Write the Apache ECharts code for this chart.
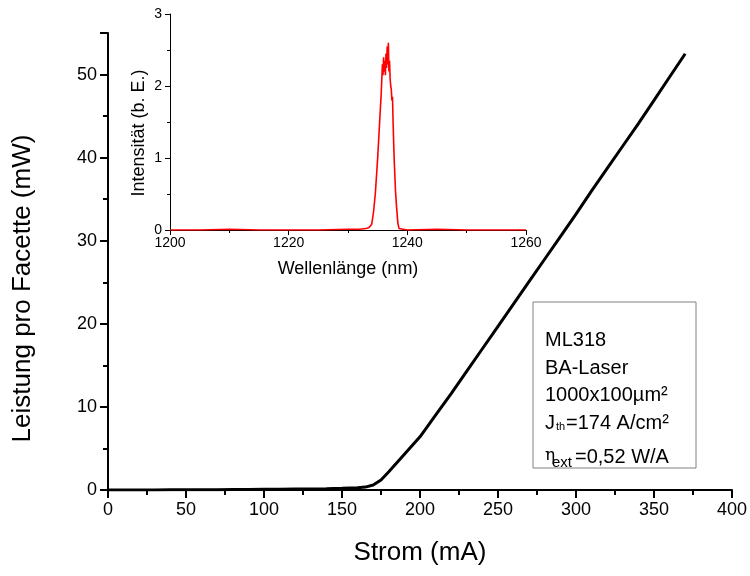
<!DOCTYPE html>
<html>
<head>
<meta charset="utf-8">
<script src="https://cdn.jsdelivr.net/npm/echarts@6/dist/echarts.min.js"></script>
<style>
  html, body { margin: 0; padding: 0; background: #fff; }
  #chart { width: 750px; height: 576px; }
</style>
</head>
<body>
<div id="chart"></div>
<script>
// P-I curve: current (mA) vs optical power per facet (mW)
const currentMA = [0, 10, 20, 30, 40, 50, 60, 70, 80, 90, 100, 110, 120, 130, 140, 150, 160,
  165, 170, 175, 180, 190, 200, 210, 220, 230, 240, 250, 260, 270, 280, 290, 300, 310, 320,
  330, 340, 350, 360, 370];
const powerMW = [0, 0, 0.01, 0.01, 0.02, 0.02, 0.03, 0.04, 0.05, 0.06, 0.08, 0.09, 0.11, 0.13,
  0.16, 0.2, 0.27, 0.35, 0.6, 1.2, 2.2, 4.3, 6.4, 9.0, 11.6, 14.3, 17.0, 19.7, 22.4, 25.1, 27.8,
  30.5, 33.2, 36.0, 38.7, 41.4, 44.1, 46.9, 49.7, 52.5];

// Emission spectrum: wavelength (nm) vs intensity (arb. units)
const wavelengthNM = [1200, 1205, 1210, 1215, 1220, 1225, 1230, 1232, 1233, 1233.5, 1234, 1234.3,
  1234.6, 1234.8, 1235.0, 1235.2, 1235.4, 1235.6, 1235.7, 1235.8, 1235.9, 1236.0, 1236.1, 1236.2,
  1236.3, 1236.4, 1236.5, 1236.6, 1236.7, 1236.8, 1236.9, 1237.0, 1237.1, 1237.2, 1237.3, 1237.4,
  1237.5, 1237.6, 1237.7, 1237.8, 1237.9, 1238.0, 1238.2, 1238.4, 1238.6, 1238.8, 1240, 1245,
  1250, 1255, 1260];
const intensity = [0, 0, 0.01, 0, 0, 0, 0.01, 0.01, 0.02, 0.03, 0.08, 0.25, 0.5, 0.75, 1.0, 1.3,
  1.6, 1.9, 2.1, 2.3, 2.15, 2.4, 2.2, 2.35, 2.15, 2.45, 2.25, 2.55, 2.3, 2.6, 2.2, 2.35, 2.1, 2.0,
  1.95, 1.8, 1.85, 1.5, 1.2, 0.95, 0.75, 0.55, 0.3, 0.1, 0.02, 0, 0, 0.01, 0, 0, 0];

// Axis tick settings
const currentTicks = { min: 0, max: 400, step: 50 };
const powerTicks = { min: 0, max: 55, step: 10 };
const wavelengthTicks = { min: 1200, max: 1260, step: 20 };
const intensityTicks = { min: 0, max: 3, step: 1 };

const FONT = '"Liberation Sans", Arial, sans-serif';

function axisBase(width, tickLen, minorLen, labelSize, margin) {
  return {
    axisLine: { show: true, onZero: false, lineStyle: { color: '#000', width: width } },
    axisTick: { show: true, inside: false, length: tickLen, lineStyle: { color: '#000', width: width } },
    minorTick: { show: true, splitNumber: 2, length: minorLen, lineStyle: { color: '#000', width: width } },
    splitLine: { show: false },
    minorSplitLine: { show: false },
    axisLabel: {
      color: '#000', fontFamily: FONT, fontSize: labelSize, margin: margin,
      showMaxLabel: true, formatter: (v) => String(v)
    }
  };
}

const chart = echarts.init(document.getElementById('chart'), null, { renderer: 'canvas' });

const mainY = axisBase(2, 8, 5, 18, 11);
mainY.axisLabel.showMaxLabel = false;

chart.setOption({
  animation: false,
  backgroundColor: '#fff',
  grid: [
    { left: 108, right: 13, top: 33, bottom: 86 },
    { left: 170, right: 224, top: 14, bottom: 346 }
  ],
  xAxis: [
    Object.assign(axisBase(2, 8, 5, 18, 11), {
      type: 'value', gridIndex: 0,
      min: currentTicks.min, max: currentTicks.max, interval: currentTicks.step,
      name: 'Strom (mA)', nameLocation: 'middle', nameGap: 50,
      nameTextStyle: { color: '#000', fontFamily: FONT, fontSize: 26 }
    }),
    Object.assign(axisBase(1, 5, 3, 14, 6), {
      type: 'value', gridIndex: 1,
      min: wavelengthTicks.min, max: wavelengthTicks.max, interval: wavelengthTicks.step,
      name: 'Wellenlänge (nm)', nameLocation: 'middle', nameGap: 30,
      nameTextStyle: { color: '#000', fontFamily: FONT, fontSize: 18 }
    })
  ],
  yAxis: [
    Object.assign(mainY, {
      type: 'value', gridIndex: 0,
      min: powerTicks.min, max: powerTicks.max, interval: powerTicks.step,
      name: 'Leistung pro Facette (mW)', nameLocation: 'middle', nameGap: 72,
      nameTextStyle: { color: '#000', fontFamily: FONT, fontSize: 26, padding: [0, 54, 0, 0] }
    }),
    Object.assign(axisBase(1, 5, 3, 14, 8), {
      type: 'value', gridIndex: 1,
      min: intensityTicks.min, max: intensityTicks.max, interval: intensityTicks.step,
      name: 'Intensität (b. E.)', nameLocation: 'middle', nameGap: 22,
      nameTextStyle: { color: '#000', fontFamily: FONT, fontSize: 18, padding: [0, 22, 0, 0] }
    })
  ],
  series: [
    {
      type: 'line', xAxisIndex: 0, yAxisIndex: 0,
      data: currentMA.map((c, i) => [c, powerMW[i]]),
      showSymbol: false,
      lineStyle: { color: '#000', width: 3 },
      z: 3
    },
    {
      type: 'line', xAxisIndex: 1, yAxisIndex: 1,
      data: wavelengthNM.map((w, i) => [w, intensity[i]]),
      showSymbol: false,
      lineStyle: { color: '#ff0000', width: 1.6 },
      z: 3
    }
  ],
  graphic: [
    {
      type: 'rect', z: 10,
      shape: { x: 533, y: 302, width: 163, height: 166 },
      style: { fill: '#fff', stroke: '#808080', lineWidth: 1 }
    },
    { type: 'text', z: 11, x: 545, y: 330, style: { text: 'ML318', font: '20px ' + FONT, fill: '#000', verticalAlign: 'alphabetic' } },
    { type: 'text', z: 11, x: 545, y: 358, style: { text: 'BA-Laser', font: '20px ' + FONT, fill: '#000', verticalAlign: 'alphabetic' } },
    { type: 'text', z: 11, x: 545, y: 385, style: { text: '1000x100µm²', font: '20px ' + FONT, fill: '#000', verticalAlign: 'alphabetic' } },
    { type: 'text', z: 11, x: 545, y: 413, style: { text: 'J', font: '20px ' + FONT, fill: '#000', verticalAlign: 'alphabetic' } },
    { type: 'text', z: 11, x: 556, y: 421, style: { text: 'th', font: '11px ' + FONT, fill: '#000', verticalAlign: 'alphabetic' } },
    { type: 'text', z: 11, x: 566, y: 413, style: { text: '=174 A/cm²', font: '20px ' + FONT, fill: '#000', verticalAlign: 'alphabetic' } },
    { type: 'text', z: 11, x: 545, y: 447, style: { text: 'η', font: '17px "DejaVu Serif", serif', fill: '#000', verticalAlign: 'alphabetic' } },
    { type: 'text', z: 11, x: 552, y: 455, style: { text: 'ext', font: '15px ' + FONT, fill: '#000', verticalAlign: 'alphabetic' } },
    { type: 'text', z: 11, x: 575, y: 447, style: { text: '=0,52 W/A', font: '20px ' + FONT, fill: '#000', verticalAlign: 'alphabetic' } }
  ]
});
</script>
</body>
</html>
